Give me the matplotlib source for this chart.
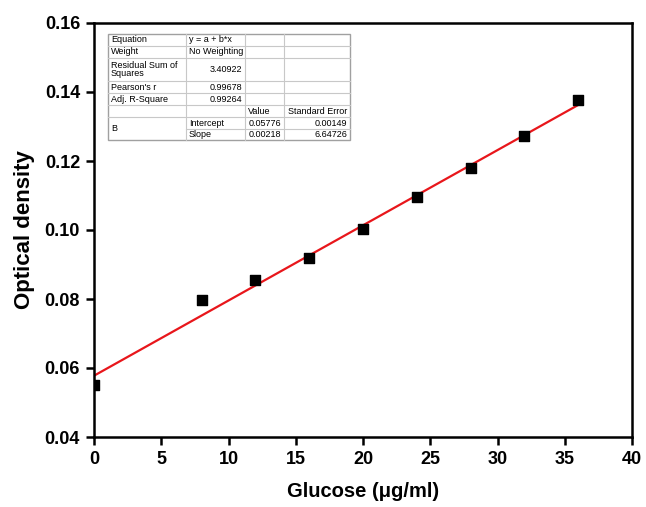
import matplotlib
matplotlib.use("Agg")
import matplotlib.pyplot as plt
from matplotlib.lines import Line2D
import numpy as np

plt.rcParams['font.family'] = ['Liberation Sans', 'DejaVu Sans']

glucose = [0, 8, 12, 16, 20, 24, 28, 32, 36]
od = [0.0551, 0.0797, 0.0855, 0.0920, 0.1003, 0.1096, 0.1180, 0.1273, 0.1377]
intercept = 0.05776
slope = 0.00218
xticks = [0, 5, 10, 15, 20, 25, 30, 35, 40]
yticks = [0.04, 0.06, 0.08, 0.10, 0.12, 0.14, 0.16]

table_rows = [
    ["Equation", "y = a + b*x", "", ""],
    ["Weight", "No Weighting", "", ""],
    ["Residual Sum of\nSquares", "3.40922", "", ""],
    ["Pearson's r", "0.99678", "", ""],
    ["Adj. R-Square", "0.99264", "", ""],
    ["", "", "Value", "Standard Error"],
    ["B", "Intercept", "0.05776", "0.00149"],
    ["", "Slope", "0.00218", "6.64726"],
]

W, H = 646, 507
fig = plt.figure(figsize=(W / 100, H / 100), dpi=100)
ax = fig.add_axes([94 / W, (H - 437) / H, 538 / W, 414 / H])

xs = np.array([0, 36])
ax.plot(xs, intercept + slope * xs, color='#e8161b', lw=1.6, zorder=2)
ax.scatter(glucose, od, marker='s', s=55, color='black', zorder=3, clip_on=True)

ax.set_xlim(0, 40)
ax.set_ylim(0.04, 0.16)
ax.set_xticks(xticks)
ax.set_yticks(yticks)
ax.set_xticklabels([str(t) for t in xticks])
ax.set_yticklabels([f"{t:.2f}" for t in yticks])
for s in ax.spines.values():
    s.set_linewidth(1.8)
ax.tick_params(direction='out', width=1.8, length=6, labelsize=13, pad=4)
for lab in ax.get_xticklabels() + ax.get_yticklabels():
    lab.set_fontweight('bold')
ax.set_xlabel("Glucose (μg/ml)", fontsize=14.5, fontweight='bold', labelpad=10)
ax.set_ylabel("Optical density", fontsize=16, fontweight='bold', labelpad=7)

# table drawn in pixel coordinates (figure)
def fx(px):
    return px / W

def fy(py):
    return 1 - py / H

col_edges = [108, 186, 245, 284, 350]
row_edges = [34, 46, 58, 81, 93, 105, 117, 129, 140]
gc = '#c8c8c8'
fig.patches.append(plt.Rectangle((fx(108), fy(140)), fx(350) - fx(108), fy(34) - fy(140),
                                 transform=fig.transFigure, fill=True, facecolor='white',
                                 edgecolor='#a0a0a0', lw=1.0, zorder=5))
for i, r in enumerate(row_edges[1:-1], start=1):
    x0 = 108
    if i == 7:  # B merged cell spans rows 6 and 7
        x0 = 186
    fig.add_artist(Line2D([fx(x0), fx(350)], [fy(r), fy(r)], transform=fig.transFigure,
                          color=gc, lw=0.8, zorder=6))
for c in col_edges[1:-1]:
    fig.add_artist(Line2D([fx(c), fx(c)], [fy(34), fy(140)], transform=fig.transFigure,
                          color=gc, lw=0.8, zorder=6))

fs = 6.5
for i, row in enumerate(table_rows):
    top, bot = row_edges[i], row_edges[i + 1]
    yc = (top + bot) / 2
    for j, txt in enumerate(row):
        if not txt:
            continue
        if i == 6 and j == 0:
            yc2 = (row_edges[6] + row_edges[8]) / 2
            fig.text(fx(col_edges[0] + 3), fy(yc2), txt, fontsize=fs, va='center', ha='left', zorder=7)
            continue
        numeric = txt[0].isdigit()
        if j == 0 or (j == 1 and not numeric) or (i == 5 and j == 2):
            fig.text(fx(col_edges[j] + 3), fy(yc), txt, fontsize=fs, va='center', ha='left',
                     linespacing=1.0, zorder=7)
        else:
            fig.text(fx(col_edges[j + 1] - 3), fy(yc), txt, fontsize=fs, va='center', ha='right',
                     zorder=7)

fig.savefig("out.png", dpi=100)
